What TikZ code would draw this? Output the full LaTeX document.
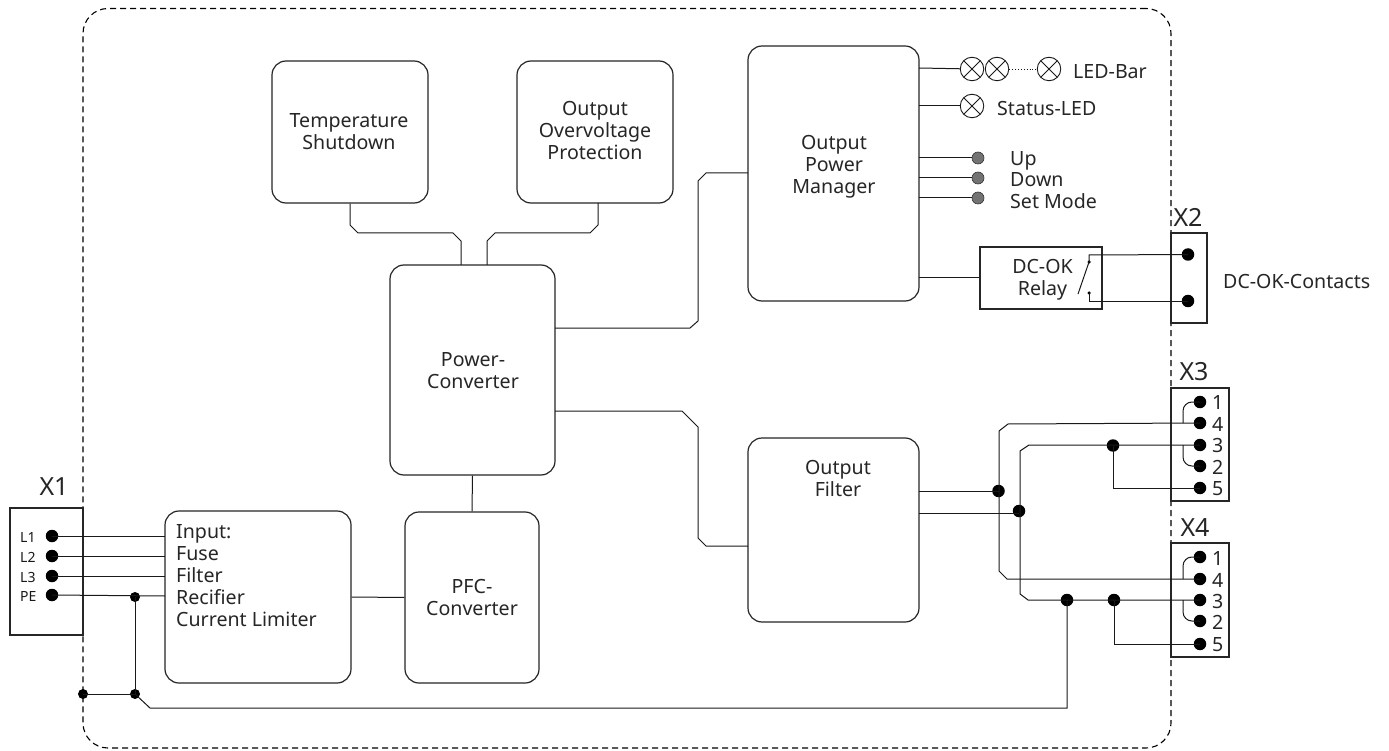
\documentclass[tikz,border=0pt]{standalone}
\usepackage{fontspec}
\setmainfont{Noto Sans}
\tikzset{
 x=1pt,y=-1pt,
 wire/.style={line width=1pt,draw=black!90},
 blockbox/.style={draw=black!85,line width=1.2pt,rounded corners=14pt,inner sep=0pt},
 plainbox/.style={draw=black!85,line width=1.2pt,inner sep=0pt},
 lbl/.style={font=\fontsize{19.6}{22}\selectfont,align=center,inner sep=0pt,text=black!85},
 lbll/.style={font=\fontsize{19.6}{22}\selectfont,align=left,inner sep=0pt,anchor=west,text=black!85},
 conn/.style={font=\fontsize{25}{28}\selectfont,inner sep=0pt,text=black!85},
 small/.style={font=\fontsize{14}{16}\selectfont,inner sep=0pt,anchor=west,text=black!90},
 dotb/.style={circle,fill=black,inner sep=0pt,minimum size=12.5pt},
 dots/.style={circle,fill=black,inner sep=0pt,minimum size=10pt},
 dotg/.style={circle,fill=black!55,draw=black!80,line width=0.6pt,inner sep=0pt,minimum size=12pt},
 tiny/.style={circle,fill=black,inner sep=0pt,minimum size=3.5pt},
 lamp/.style={circle,draw=black!90,line width=0.9pt,inner sep=0pt,minimum size=23.5pt,path picture={
   \draw[line width=0.9pt,draw=black!90] (path picture bounding box.south west)--(path picture bounding box.north east)
   (path picture bounding box.north west)--(path picture bounding box.south east);}},
}
\begin{document}
\begin{tikzpicture}
\useasboundingbox (0,0) rectangle (1389,751);
\fill[white] (0,0) rectangle (1389,751);
% enclosure
\node[draw=black,line width=1.1pt,dash pattern=on 6pt off 4pt,rounded corners=25pt,minimum width=1088pt,minimum height=739.5pt,inner sep=0pt] (frame) at (627,378.25) {};
% blocks
\node[blockbox,minimum width=156pt,minimum height=142pt] (temp) at (350,132) {};
\node[blockbox,minimum width=156pt,minimum height=142pt] (ovp) at (595,132) {};
\node[blockbox,minimum width=171pt,minimum height=255pt] (opm) at (833.5,173.5) {};
\node[blockbox,minimum width=165pt,minimum height=210pt] (pc) at (472.5,370) {};
\node[blockbox,minimum width=171pt,minimum height=184pt] (ofilt) at (833.5,530) {};
\node[blockbox,minimum width=134pt,minimum height=171pt] (pfc) at (472,597.5) {};
\node[blockbox,minimum width=186pt,minimum height=172pt] (inp) at (258,597) {};
\node[plainbox,minimum width=122pt,minimum height=62pt] (relay) at (1041,278) {};
\node[plainbox,minimum width=36pt,minimum height=90pt] (xtwo) at (1189,278) {};
\node[plainbox,minimum width=58pt,minimum height=113pt] (xthree) at (1200,444.5) {};
\node[plainbox,minimum width=58pt,minimum height=114pt] (xfour) at (1200,600) {};
\node[plainbox,minimum width=73pt,minimum height=127pt] (xone) at (46.5,571.5) {};
% block labels
\node[lbl] (t1) at (349,132) {Temperature\\Shutdown};
\node[lbl] (t2) at (595,130) {Output\\Overvoltage\\Protection};
\node[lbl] (t3) at (834,167) {Output\\Power\\Manager};
\node[lbl] (t4) at (473,370.5) {Power-\\Converter};
\node[lbl] (t5) at (838,478) {Output\\Filter};
\node[lbl] (t6) at (472,597.5) {PFC-\\Converter};
\node[lbl,align=left,anchor=north west] (t7) at (176,524) {Input:\\Fuse\\Filter\\Recifier\\Current Limiter};
\node[lbl] (t8) at (1042.5,280) {DC-OK\\Relay};
\node[lbll] (t9) at (1073,72) {LED-Bar};
\node[lbll] (t10) at (997,109) {Status-LED};
\node[lbll] (t11) at (1010,160.5) {Up};
\node[lbll] (t12) at (1010,180) {Down};
\node[lbll] (t13) at (1010,201) {Set Mode};
\node[lbll] (t14) at (1223,281) {DC-OK-Contacts};
\node[conn] (n1) at (54,487) {X1};
\node[conn] (n2) at (1188,217) {X2};
\node[conn] (n3) at (1194,372) {X3};
\node[conn] (n4) at (1195,528) {X4};
% terminals
\foreach \n/\y/\t in {a/536/L1,b/556/L2,c/576/L3,d/595/PE}{
  \node[dotb] (x1\n) at (52,\y) {};
  \node[small] (x1t\n) at (20,\y+1) {\t};
}
\foreach \n/\y in {1/402,4/423,3/445,2/466,5/488}{
  \node[dotb] (xa\n) at (1200,\y) {};
  \node[lbll] (xat\n) at (1212,\y+1) {\n};
}
\foreach \n/\y in {1/557,4/579,3/600,2/621,5/644}{
  \node[dotb] (xb\n) at (1200,\y) {};
  \node[lbll] (xbt\n) at (1212,\y+1) {\n};
}
\node[dotb] (c1) at (1188,254.5) {};
\node[dotb] (c2) at (1188,301) {};
% junctions
\node[dots] (j1) at (135,597) {};
\node[dots] (j2) at (135,694) {};
\node[dots] (j3) at (83,694) {};
\node[dotb] (j4) at (998.5,491) {};
\node[dotb] (j5) at (1019,511) {};
\node[dotb] (j6) at (1113,445.5) {};
\node[dotb] (j7) at (1067,600) {};
\node[dotb] (j8) at (1114,600) {};
% lamps and buttons
\node[lamp] (la) at (972,69) {};
\node[lamp] (lb) at (997,69) {};
\node[lamp] (lc) at (1049,69) {};
\node[lamp] (ld) at (972,106) {};
\node[dotg] (b1) at (978,158) {};
\node[dotg] (b2) at (978,178) {};
\node[dotg] (b3) at (978,198) {};
\node[tiny] (s1) at (1089,262) {};
\node[tiny] (s2) at (1089,293) {};
% ports on blocks
\coordinate (p1) at (461,265);
\coordinate (p2) at (487,265);
\coordinate (p3) at (598,203);
\coordinate (p4) at (555,328);
\coordinate (p5) at (748,173);
\coordinate (p6) at (555,411);
\coordinate (p7) at (748,546);
\coordinate (p8) at (919,491);
\coordinate (p9) at (919,513);
\coordinate (o1) at (919,68);
\coordinate (o2) at (919,106);
\coordinate (o3) at (919,158);
\coordinate (o4) at (919,178);
\coordinate (o5) at (919,198);
\coordinate (o6) at (919,278);
\coordinate (i1) at (165,536);
\coordinate (i2) at (165,556);
\coordinate (i3) at (165,576);
\coordinate (i4) at (165,596);
\coordinate (sw) at (1078,294);
% connectors
\begin{scope}[wire]
\draw (temp.south) -- (350,225) -- (358,233) -- (453,233) -- (461,241) -- (p1);
\draw (p3) -- (598,225) -- (590,233) -- (495,233) -- (487,241) -- (p2);
\draw (p4) -- (690,328) -- (698,321) -- (698,181) -- (706,173) -- (p5);
\draw (p6) -- (682,411) -- (698,427) -- (698,538) -- (706,546) -- (p7);
\draw (pc.south) -- (pfc.north);
\draw (inp.east) -- (pfc.west);
\draw (x1a.center) -- (i1);
\draw (x1b.center) -- (i2);
\draw (x1c.center) -- (i3);
\draw (x1d.center) -- (i4);
\draw (j1.center) -- (j2.center);
\draw (j3.center) -- (j2.center);
\draw (j2.center) -- (150,708) -- (1067,708) -- (j7.center);
\draw (p8) -- (j4.center);
\draw (p9) -- (j5.center |- p9);
\draw (xa4.center) -- (1008,424) -- (999,431) -- (999,571) -- (1007,579) -- (xb4.center);
\draw (xa3.center) -- (1029,445) -- (1020,451) -- (1020,594) -- (1028,600) -- (xb3.center);
\draw (j6.center) -- (1113,488) -- (xa5.center);
\draw (j8.center) -- (1114,644) -- (xb5.center);
\draw[rounded corners=9pt] (xa1.center) -- (1183,402) -- (1183,423);
\draw[rounded corners=9pt] (1183,445) -- (1183,466) -- (xa2.center);
\draw[rounded corners=9pt] (xb1.center) -- (1183,557) -- (1183,579);
\draw[rounded corners=9pt] (1183,600) -- (1183,621) -- (xb2.center);
\draw (o1) -- (la);
\draw (o2) -- (ld);
\draw (o3) -- (b1);
\draw (o4) -- (b2);
\draw (o5) -- (b3);
\draw (o6) -- (relay.west);
\draw[line width=0.9pt,dotted] (lb) -- (lc);
\draw (s1.center) -- (sw);
\draw (s1.center) -- (1089,255) -- (c1.center);
\draw (s2.center) -- (1089,301) -- (c2.center);
\end{scope}
\end{tikzpicture}
\end{document}
